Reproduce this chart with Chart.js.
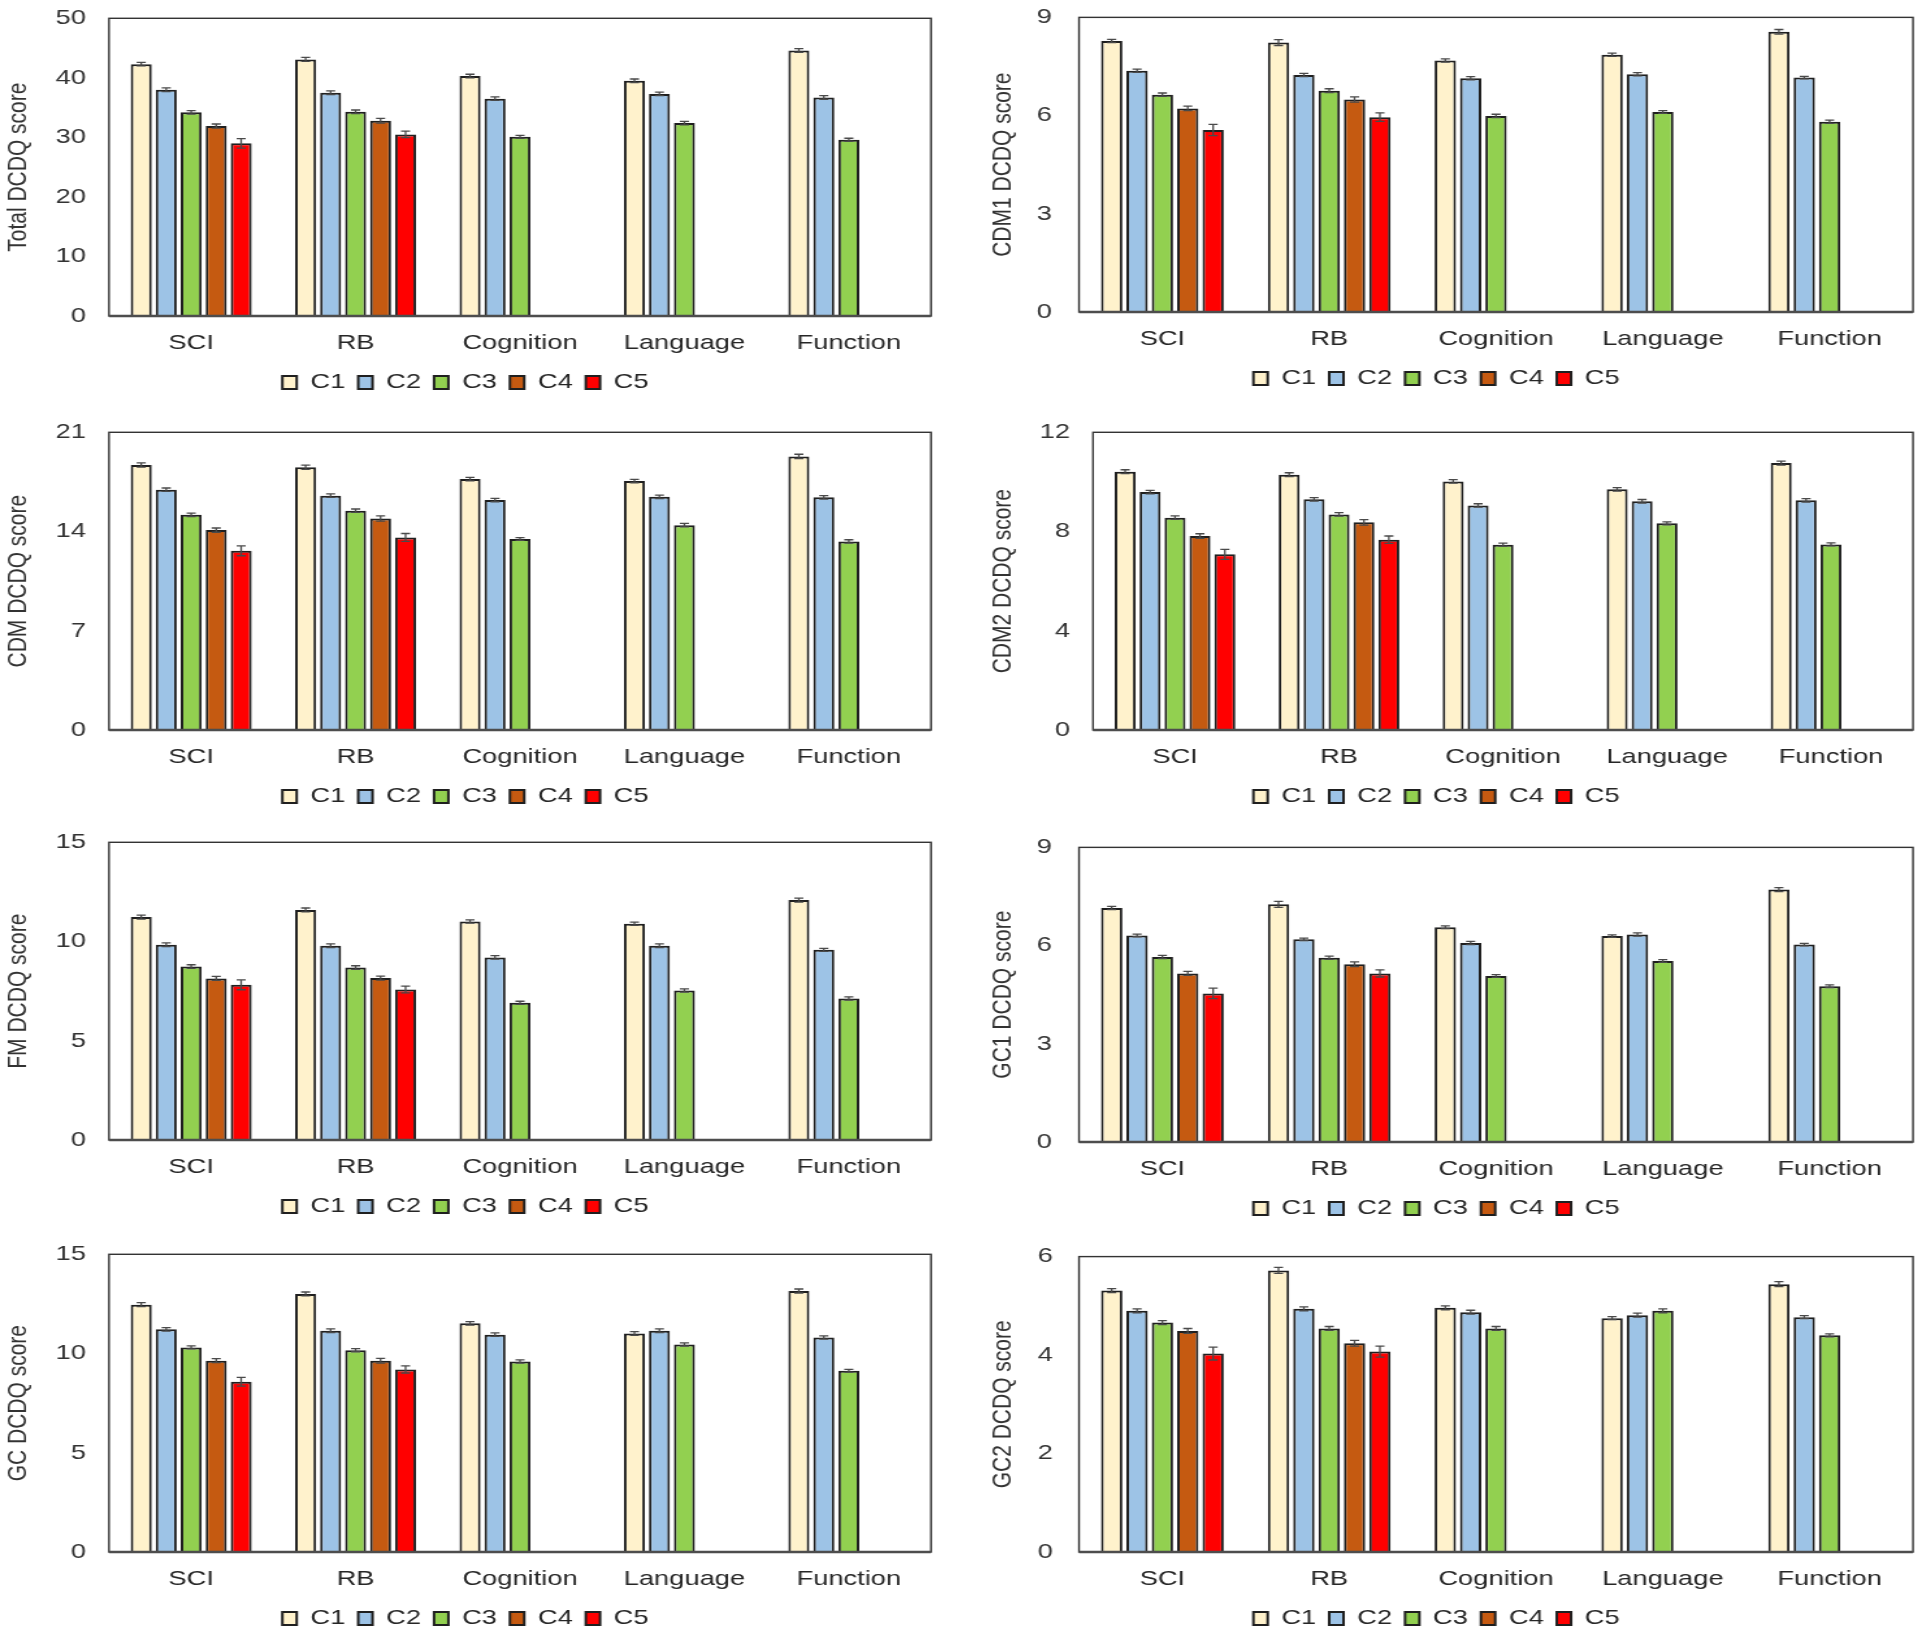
<!DOCTYPE html>
<html>
<head>
<meta charset="utf-8">
<title>DCDQ scores by cluster</title>
<script src="https://cdn.jsdelivr.net/npm/chart.js@4.4.1/dist/chart.umd.min.js"></script>
<style>
  html, body { margin: 0; padding: 0; background: #fff; overflow: hidden; }
  body { width: 1920px; height: 1630px; position: relative; }
  .panel { position: absolute; transform-origin: 0 0; }
</style>
</head>
<body>
<script>
const categories = ['SCI', 'RB', 'Cognition', 'Language', 'Function'];
const seriesNames = ['C1', 'C2', 'C3', 'C4', 'C5'];
const seriesColors = ['#FFF2CC', '#9DC3E6', '#92D050', '#C55A11', '#FF0000'];

const axisTitles = ['Total DCDQ score', 'CDM1 DCDQ score', 'CDM DCDQ score', 'CDM2 DCDQ score',
                    'FM DCDQ score', 'GC1 DCDQ score', 'GC DCDQ score', 'GC2 DCDQ score'];
const yMax = [50, 9, 21, 12, 15, 9, 15, 6];
const yStep = [10, 3, 7, 4, 5, 3, 5, 2];

// means: one row per cluster (C1..C5), one column per category. null = not shown
const totalMeans = [
  [42.3, 43.1, 40.3, 39.5, 44.6],
  [38.0, 37.5, 36.5, 37.3, 36.7],
  [34.2, 34.3, 30.1, 32.4, 29.6],
  [31.9, 32.8, null, null, null],
  [29.0, 30.5, null, null, null]
];
const totalErr = [
  [0.3, 0.35, 0.3, 0.3, 0.3],
  [0.3, 0.3, 0.3, 0.3, 0.3],
  [0.3, 0.3, 0.25, 0.3, 0.25],
  [0.35, 0.4, null, null, null],
  [0.8, 0.55, null, null, null]
];

const cdm1Means = [
  [8.28, 8.23, 7.68, 7.86, 8.56],
  [7.37, 7.24, 7.14, 7.26, 7.16],
  [6.64, 6.76, 5.99, 6.11, 5.81],
  [6.22, 6.49, null, null, null],
  [5.56, 5.95, null, null, null]
];
const cdm1Err = [
  [0.05, 0.09, 0.05, 0.05, 0.07],
  [0.05, 0.05, 0.05, 0.05, 0.04],
  [0.05, 0.06, 0.05, 0.04, 0.05],
  [0.07, 0.08, null, null, null],
  [0.17, 0.13, null, null, null]
];

const cdmMeans = [
  [18.69, 18.53, 17.70, 17.56, 19.30],
  [16.95, 16.53, 16.22, 16.45, 16.41],
  [15.18, 15.47, 13.47, 14.45, 13.30],
  [14.10, 14.92, null, null, null],
  [12.64, 13.58, null, null, null]
];
const cdmErr = [
  [0.15, 0.15, 0.12, 0.12, 0.15],
  [0.12, 0.12, 0.12, 0.12, 0.12],
  [0.12, 0.12, 0.1, 0.12, 0.12],
  [0.15, 0.18, null, null, null],
  [0.35, 0.28, null, null, null]
];

const cdm2Means = [
  [10.41, 10.29, 10.02, 9.70, 10.76],
  [9.59, 9.30, 9.05, 9.22, 9.26],
  [8.56, 8.69, 7.47, 8.33, 7.48],
  [7.82, 8.37, null, null, null],
  [7.08, 7.67, null, null, null]
];
const cdm2Err = [
  [0.08, 0.08, 0.07, 0.07, 0.08],
  [0.07, 0.07, 0.07, 0.07, 0.07],
  [0.07, 0.07, 0.06, 0.06, 0.06],
  [0.09, 0.11, null, null, null],
  [0.2, 0.15, null, null, null]
];

const fmMeans = [
  [11.23, 11.59, 11.01, 10.90, 12.09],
  [9.84, 9.79, 9.20, 9.79, 9.58],
  [8.74, 8.69, 6.91, 7.53, 7.13],
  [8.14, 8.16, null, null, null],
  [7.82, 7.58, null, null, null]
];
const fmErr = [
  [0.1, 0.1, 0.08, 0.08, 0.1],
  [0.09, 0.09, 0.09, 0.09, 0.08],
  [0.09, 0.09, 0.08, 0.08, 0.08],
  [0.1, 0.1, null, null, null],
  [0.25, 0.17, null, null, null]
];

const gc1Means = [
  [7.15, 7.26, 6.56, 6.29, 7.71],
  [6.31, 6.19, 6.08, 6.34, 6.03],
  [5.65, 5.63, 5.07, 5.53, 4.76],
  [5.15, 5.43, null, null, null],
  [4.54, 5.15, null, null, null]
];
const gc1Err = [
  [0.05, 0.09, 0.04, 0.04, 0.06],
  [0.04, 0.04, 0.05, 0.05, 0.04],
  [0.05, 0.05, 0.04, 0.04, 0.04],
  [0.06, 0.07, null, null, null],
  [0.16, 0.11, null, null, null]
];

const gcMeans = [
  [12.46, 13.00, 11.52, 11.01, 13.15],
  [11.22, 11.15, 10.95, 11.15, 10.81],
  [10.31, 10.17, 9.60, 10.46, 9.13],
  [9.64, 9.64, null, null, null],
  [8.58, 9.20, null, null, null]
];
const gcErr = [
  [0.1, 0.1, 0.09, 0.09, 0.1],
  [0.09, 0.09, 0.09, 0.09, 0.08],
  [0.08, 0.08, 0.08, 0.08, 0.07],
  [0.1, 0.12, null, null, null],
  [0.22, 0.18, null, null, null]
];

const gc2Means = [
  [5.31, 5.72, 4.96, 4.75, 5.44],
  [4.90, 4.94, 4.87, 4.81, 4.77],
  [4.66, 4.54, 4.54, 4.90, 4.40],
  [4.49, 4.24, null, null, null],
  [4.03, 4.07, null, null, null]
];
const gc2Err = [
  [0.04, 0.06, 0.04, 0.03, 0.05],
  [0.04, 0.04, 0.04, 0.04, 0.03],
  [0.04, 0.04, 0.04, 0.04, 0.03],
  [0.05, 0.06, null, null, null],
  [0.13, 0.11, null, null, null]
];

const allMeans = [totalMeans, cdm1Means, cdmMeans, cdm2Means, fmMeans, gc1Means, gcMeans, gc2Means];
const allErr = [totalErr, cdm1Err, cdmErr, cdm2Err, fmErr, gc1Err, gcErr, gc2Err];

// page layout (full-size pixels): panel x, plot top, plot left/right inside the panel, y tick label right edge, y title centre
const panelX = [0, 960, 0, 960, 0, 960, 0, 960];
const plotTop = [18, 14, 432, 432, 842, 844, 1254, 1254];
const plotLeft = [109, 119, 109, 133, 109, 119, 109, 119];
const plotRight = [931, 953, 931, 953, 931, 953, 931, 953];
const tickEdge = [86, 92, 86, 110, 86, 92, 86, 93];
const titleMid = [18, 43, 18, 43, 18, 43, 18, 43];

const S = 1.3;            // the reference is stretched sideways
const W = 738, H = 417;   // canvas size before the stretch
const TOP_GAP = 30;       // space chart.js leaves above the plot area
const FONT = '"Liberation Sans", Arial, sans-serif';
const TEXT = '#262626';

function errorBarsAndFrame(errRows) {
  return {
    id: 'errorBarsAndFrame',
    afterDatasetsDraw(chart) {
      const ctx = chart.ctx;
      const y = chart.scales.y;
      ctx.save();
      ctx.strokeStyle = '#4a4a4a';
      ctx.lineWidth = 1.3;
      chart.data.datasets.forEach((ds, i) => {
        const meta = chart.getDatasetMeta(i);
        meta.data.forEach((bar, j) => {
          const v = ds.data[j];
          const e = errRows[i][j];
          if (v == null || e == null) return;
          const top = y.getPixelForValue(v + e);
          const bot = y.getPixelForValue(v - e);
          const w = 3.5;
          ctx.beginPath();
          ctx.moveTo(bar.x, top); ctx.lineTo(bar.x, bot);
          ctx.moveTo(bar.x - w, top); ctx.lineTo(bar.x + w, top);
          ctx.moveTo(bar.x - w, bot); ctx.lineTo(bar.x + w, bot);
          ctx.stroke();
        });
      });
      // box round the plot, heavier base line
      const a = chart.chartArea;
      ctx.strokeStyle = '#333';
      ctx.lineWidth = 1.4;
      ctx.strokeRect(a.left, a.top, a.right - a.left, a.bottom - a.top);
      ctx.strokeStyle = '#4d4d4d';
      ctx.lineWidth = 2.4;
      ctx.beginPath();
      ctx.moveTo(a.left, a.bottom);
      ctx.lineTo(a.right, a.bottom);
      ctx.stroke();
      ctx.restore();
    }
  };
}

for (let p = 0; p < 8; p++) {
  const box = document.createElement('div');
  box.className = 'panel';
  box.style.left = panelX[p] + 'px';
  box.style.top = (plotTop[p] - TOP_GAP) + 'px';
  box.style.transform = 'scaleX(' + S + ')';
  const canvas = document.createElement('canvas');
  canvas.width = W;
  canvas.height = H;
  box.appendChild(canvas);
  document.body.appendChild(box);

  const left = plotLeft[p] / S;
  const padRight = W - plotRight[p] / S;
  const tickPad = (plotLeft[p] - tickEdge[p]) / S;
  const titlePad = titleMid[p] / S - 12.6;

  const datasets = seriesNames.map((name, i) => ({
    label: name,
    data: allMeans[p][i],
    backgroundColor: seriesColors[i],
    borderColor: '#1f1f1f',
    borderWidth: 2,
    categoryPercentage: 0.76,
    barPercentage: 0.84
  }));

  new Chart(canvas.getContext('2d'), {
    type: 'bar',
    data: { labels: categories, datasets: datasets },
    options: {
      responsive: false,
      animation: false,
      devicePixelRatio: 1,
      layout: { padding: { top: 0, right: padRight, bottom: 2, left: 0 } },
      plugins: {
        tooltip: { enabled: false },
        legend: {
          position: 'bottom',
          labels: { boxWidth: 11, boxHeight: 13, padding: 10, color: TEXT, font: { size: 21, family: FONT } }
        }
      },
      scales: {
        x: {
          grid: { display: false, drawTicks: false },
          border: { display: false },
          ticks: { color: TEXT, font: { size: 21, family: FONT }, padding: 15, maxRotation: 0, autoSkip: false },
          afterFit(s) { s.height = 46; }
        },
        y: {
          min: 0,
          max: yMax[p],
          grid: { display: false, drawTicks: false },
          border: { display: false },
          ticks: { stepSize: yStep[p], padding: tickPad, color: '#333', font: { size: 21, family: FONT } },
          title: { display: true, text: axisTitles[p], color: '#333', font: { size: 21, family: FONT }, padding: { top: titlePad, bottom: 0 } },
          afterFit(s) { s.width = left; }
        }
      }
    },
    plugins: [errorBarsAndFrame(allErr[p])]
  });
}
</script>
</body>
</html>
